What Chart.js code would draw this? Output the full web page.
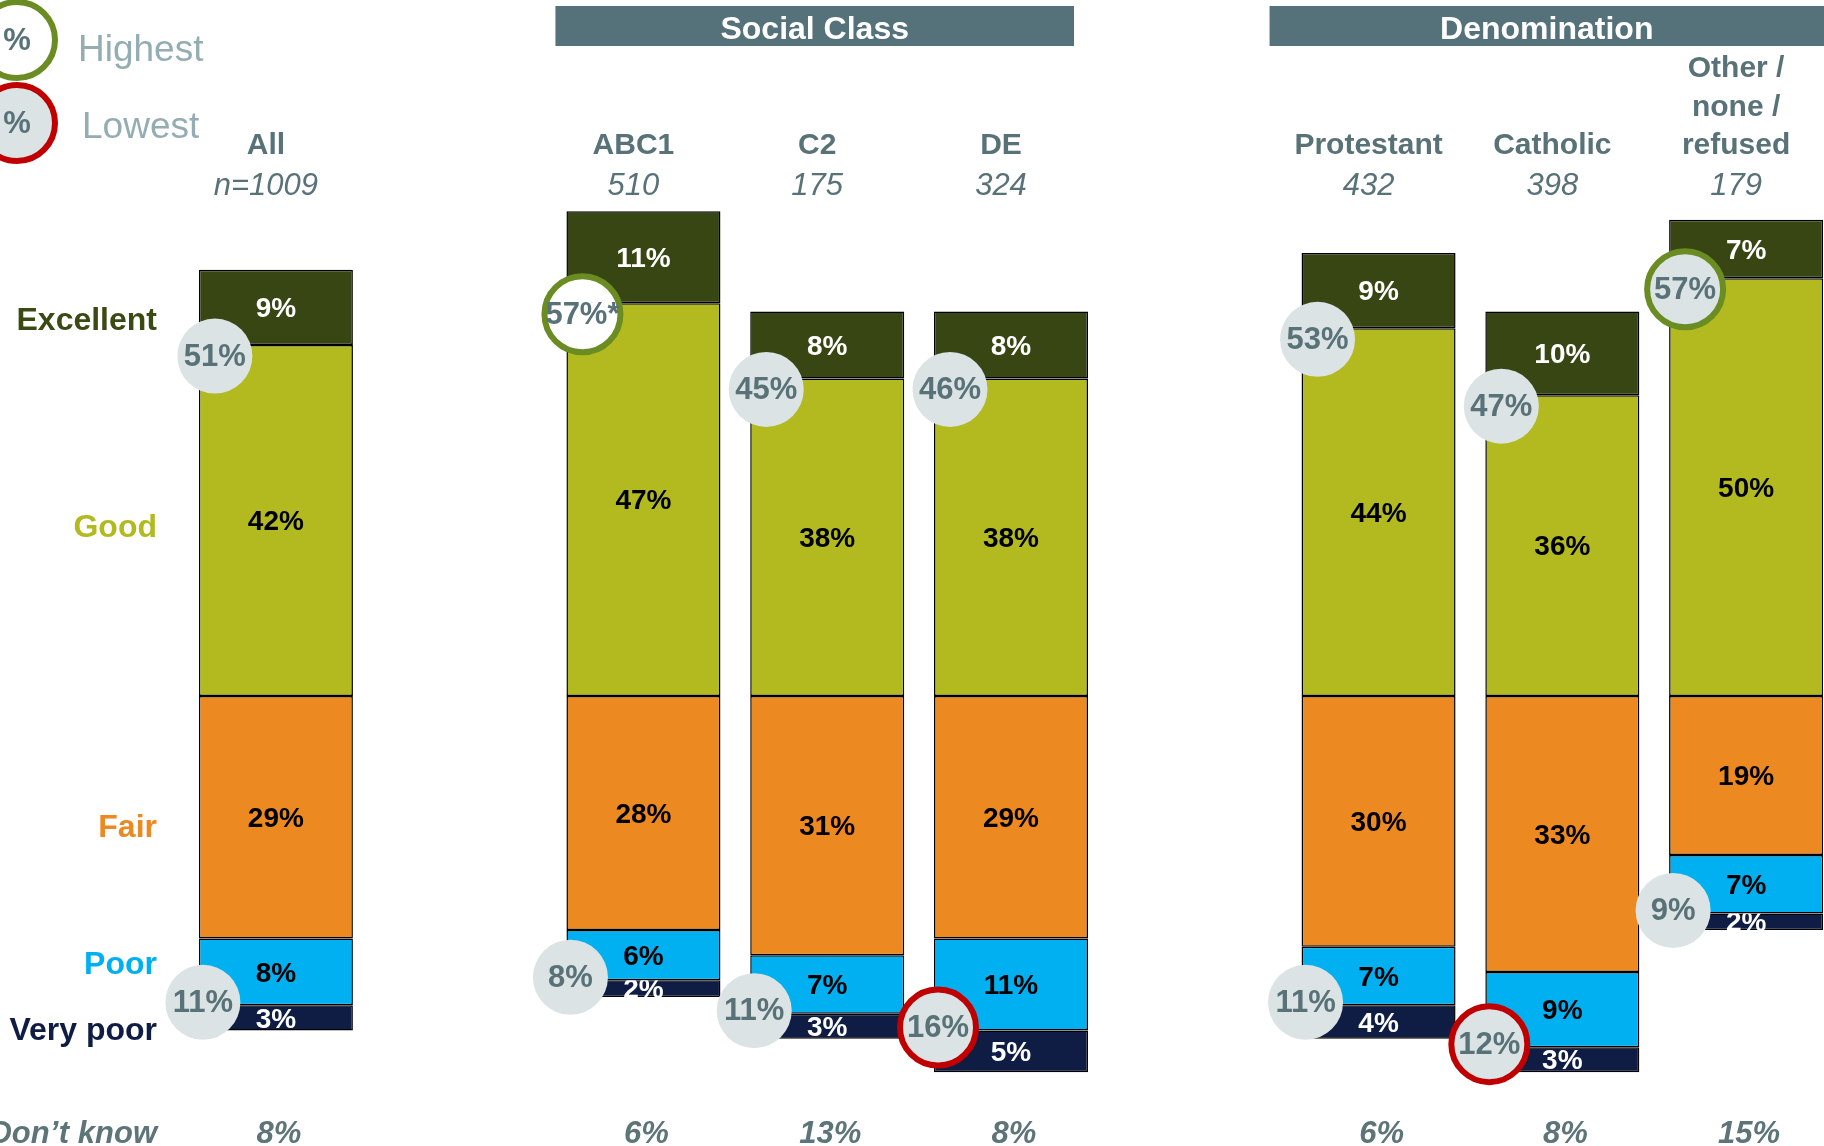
<!DOCTYPE html>
<html>
<head>
<meta charset="utf-8">
<title>Health rating by social class and denomination</title>
<script src="https://cdn.jsdelivr.net/npm/chart.js@4.4.1/dist/chart.umd.min.js"></script>
<style>
    html, body { margin: 0; padding: 0; background: #fff; overflow: hidden; }
    canvas { display: block; }
</style>
</head>
<body>
<canvas id="healthChart" width="1838" height="1146"></canvas>
<script>
const categories = ['All', 'ABC1', 'C2', 'DE', 'Protestant', 'Catholic', ['Other /', 'none /', 'refused']];
const sampleSizes = ['n=1009', '510', '175', '324', '432', '398', '179'];
const excellent = [9, 11, 8, 8, 9, 10, 7];
const good = [42, 47, 38, 38, 44, 36, 50];
const fair = [29, 28, 31, 29, 30, 33, 19];
const poor = [8, 6, 7, 11, 7, 9, 7];
const veryPoor = [3, 2, 3, 5, 4, 3, 2];
const dontKnow = [8, 6, 13, 8, 6, 8, 15];
const netGood = [51, 57, 45, 46, 53, 47, 57];
const netPoor = [11, 8, 11, 16, 11, 12, 9];
const netGoodFlag = ['', 'highest*', '', '', '', '', 'highest'];
const netPoorFlag = ['', '', '', 'lowest', '', 'lowest', ''];
const ratingLabels = ['Excellent', 'Good', 'Fair', 'Poor', 'Very poor'];

// slot order, null = empty gap between the groups
const columns = [0, null, 1, 2, 3, null, 4, 5, 6];
const spread = (arr, sign = 1) => columns.map(i => i === null ? null : sign * arr[i]);

const FONT = '"Liberation Sans", Arial, sans-serif';
const SLATE = '#587278';
const GREEN_RING = '#6b8c23';
const RED_RING = '#c00000';
const BADGE_FILL = '#dbe3e5';

const colors = {
    Excellent: '#384614',
    Good: '#b2ba1f',
    Fair: '#ec8a21',
    Poor: '#00b0f0',
    'Very poor': '#0f1d44'
};
const labelTextColor = { Excellent: '#fff', Good: '#000', Fair: '#000', Poor: '#000', 'Very poor': '#fff' };
// small nudges of the row names on the left, relative to the middle of the All bar segment
const rowNudge = { Excellent: 14, Good: 8, Fair: 11, Poor: -7, 'Very poor': 13 };

const groups = [
    { title: 'Social Class', from: 1, to: 3, padLeft: 11, padRight: -14 },
    { title: 'Denomination', from: 4, to: 6, padLeft: 32, padRight: 40 }
];

function makeSet(name, values, sign) {
    return {
        label: name,
        data: spread(values, sign),
        backgroundColor: colors[name],
        borderColor: '#000',
        borderWidth: 1.5,
        borderSkipped: false,
        labelColor: labelTextColor[name]
    };
}

function drawBadge(ctx, x, y, text, ring, fill) {
    ctx.beginPath();
    ctx.arc(x, y, ring ? 38 : 37.5, 0, Math.PI * 2);
    ctx.fillStyle = fill;
    ctx.fill();
    if (ring) {
        ctx.lineWidth = 6;
        ctx.strokeStyle = ring;
        ctx.stroke();
    }
    ctx.fillStyle = SLATE;
    ctx.font = 'bold 31px ' + FONT;
    ctx.textAlign = 'center';
    ctx.textBaseline = 'middle';
    ctx.fillText(text, x, y + 1);
}

// value labels inside each segment, clipped to the segment like the original
const segmentLabels = {
    id: 'segmentLabels',
    afterDatasetsDraw(chart) {
        const ctx = chart.ctx;
        chart.data.datasets.forEach((ds, d) => {
            chart.getDatasetMeta(d).data.forEach((bar, i) => {
                const v = ds.data[i];
                if (v === null) return;
                const { x, y, base, width } = bar.getProps(['x', 'y', 'base', 'width'], true);
                const top = Math.min(y, base), bottom = Math.max(y, base);
                ctx.save();
                ctx.beginPath();
                ctx.rect(x - width / 2, top, width, bottom - top);
                ctx.clip();
                ctx.fillStyle = ds.labelColor;
                ctx.font = 'bold 28px ' + FONT;
                ctx.textAlign = 'center';
                ctx.textBaseline = 'middle';
                ctx.fillText(Math.abs(v) + '%', x, (top + bottom) / 2 + 2);
                ctx.restore();
            });
        });
    }
};

const annotations = {
    id: 'annotations',
    afterDraw(chart) {
        const ctx = chart.ctx;
        const xs = chart.scales.x;
        const metaOf = name => chart.getDatasetMeta(chart.data.datasets.findIndex(ds => ds.label === name));
        const slotOf = i => columns.indexOf(i);
        const barOf = (name, i) => metaOf(name).data[slotOf(i)].getProps(['x', 'y', 'base', 'width'], true);
        ctx.save();

        // legend top left
        drawBadge(ctx, 17, 40, '%', GREEN_RING, '#fff');
        drawBadge(ctx, 17, 123, '%', RED_RING, BADGE_FILL);
        ctx.font = '37px ' + FONT;
        ctx.fillStyle = '#93adb3';
        ctx.textAlign = 'left';
        ctx.textBaseline = 'middle';
        ctx.fillText('Highest', 78, 51);
        ctx.fillText('Lowest', 82, 128);

        // group header boxes
        groups.forEach(g => {
            const a = barOf('Good', g.from), b = barOf('Good', g.to);
            const left = a.x - a.width / 2 - g.padLeft;
            const right = Math.min(b.x + b.width / 2 + g.padRight, 1824);
            ctx.fillStyle = '#55727a';
            ctx.fillRect(left, 6, right - left, 40);
            ctx.fillStyle = '#fff';
            ctx.font = 'bold 32px ' + FONT;
            ctx.textAlign = 'center';
            ctx.fillText(g.title, (left + right) / 2, 30);
        });

        // column headers and sample sizes
        categories.forEach((cat, i) => {
            const cx = xs.getPixelForValue(slotOf(i)) - 10;
            const lines = Array.isArray(cat) ? cat : [cat];
            ctx.fillStyle = SLATE;
            ctx.textAlign = 'center';
            ctx.font = 'bold 30px ' + FONT;
            lines.forEach((line, k) => {
                ctx.fillText(line, cx, 146 - (lines.length - 1 - k) * 38.5);
            });
            ctx.font = 'italic 31px ' + FONT;
            ctx.fillText(sampleSizes[i], cx, 186);
        });

        // row names on the left, taken from the All column
        ctx.textAlign = 'right';
        ctx.font = 'bold 32px ' + FONT;
        ratingLabels.forEach(name => {
            const b = barOf(name, 0);
            ctx.fillStyle = name === 'Excellent' ? '#3a4a14' : colors[name];
            ctx.fillText(name, 157, (b.y + b.base) / 2 + rowNudge[name]);
        });

        // net badges
        categories.forEach((cat, i) => {
            const g = barOf('Good', i);
            const left = g.x - g.width / 2;
            const gf = netGoodFlag[i];
            drawBadge(ctx, left + 16, g.y + 11, netGood[i] + '%' + (gf.endsWith('*') ? '*' : ''),
                gf ? GREEN_RING : null, gf.endsWith('*') ? '#fff' : BADGE_FILL);
            const p = barOf('Poor', i);
            const pf = netPoorFlag[i];
            drawBadge(ctx, left + 4, p.y - 3, netPoor[i] + '%', pf ? RED_RING : null, BADGE_FILL);
        });

        // don't know row
        ctx.fillStyle = '#5d7479';
        ctx.font = 'italic bold 31px ' + FONT;
        ctx.textAlign = 'right';
        ctx.textBaseline = 'middle';
        ctx.fillText('Don\u2019t know', 157, 1134);
        ctx.textAlign = 'center';
        dontKnow.forEach((v, i) => {
            ctx.fillText(v + '%', xs.getPixelForValue(slotOf(i)) + 3, 1134);
        });

        ctx.restore();
    }
};

const ctx = document.getElementById('healthChart').getContext('2d');

new Chart(ctx, {
    type: 'bar',
    data: {
        labels: columns.map(i => i === null ? '' : categories[i]),
        datasets: [
            makeSet('Good', good, 1),
            makeSet('Excellent', excellent, 1),
            makeSet('Fair', fair, -1),
            makeSet('Poor', poor, -1),
            makeSet('Very poor', veryPoor, -1)
        ]
    },
    options: {
        responsive: false,
        animation: false,
        devicePixelRatio: 1,
        layout: { padding: { left: 184, right: 0, top: 111, bottom: 32 } },
        datasets: { bar: { categoryPercentage: 1, barPercentage: 0.838 } },
        scales: {
            x: { stacked: true, display: false },
            y: { stacked: true, display: false, min: -50, max: 70 }
        },
        plugins: {
            legend: { display: false },
            tooltip: { enabled: false }
        }
    },
    plugins: [segmentLabels, annotations]
});
</script>
</body>
</html>
